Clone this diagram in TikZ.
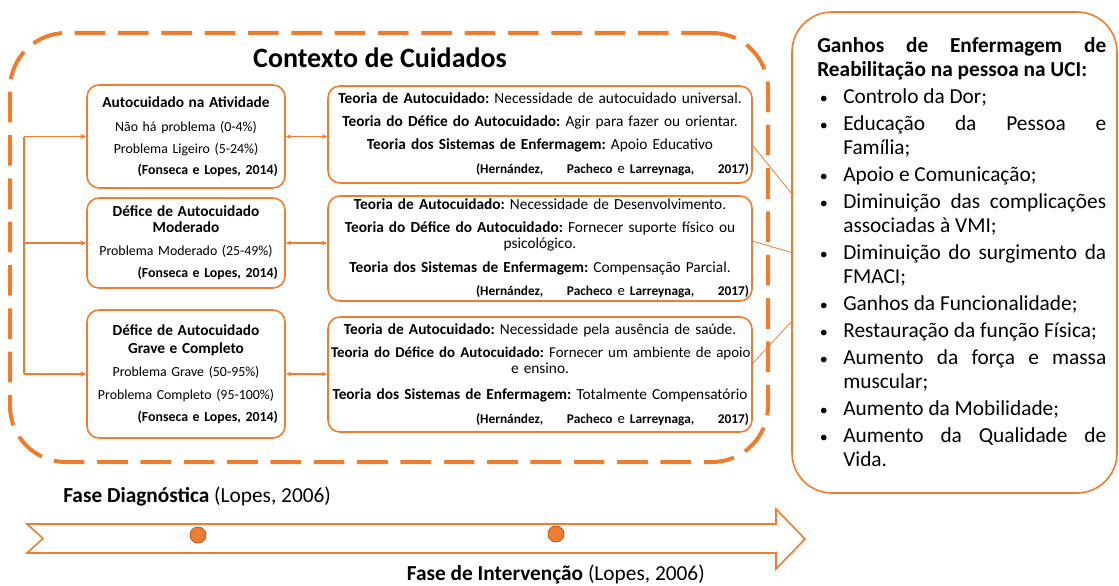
\documentclass[tikz,border=0pt]{standalone}
\usepackage{fontspec}
\setmainfont{Carlito}
\usepackage{tikz}
\usetikzlibrary{arrows.meta}

\definecolor{laranja}{HTML}{ED7D31}
\definecolor{laranjaesc}{HTML}{B85C1E}

\frenchspacing
\newcommand{\titcaixa}[1]{{\fontsize{11.5}{16.5}\selectfont\bfseries #1}}
\newcommand{\fonseca}{\hspace*{\fill}\textbf{(Fonseca e Lopes, 2014)}}
\newcommand{\hernandez}{\hspace*{\fill}\makebox[204.75pt]{\fontsize{10}{10}\selectfont\bfseries (Hernández,\hfill Pacheco {\mdseries\fontsize{11}{10}\selectfont e} Larreynaga,\hfill 2017)}}
\newcommand{\ponto}[1]{\par\hangindent=19.5pt\hangafter=1\noindent\makebox[19.5pt][l]{\hspace{2pt}{\fontsize{12}{12}\selectfont\textbullet}}#1\par}

\begin{document}
\begin{tikzpicture}[x=0.75pt,y=-0.75pt,
    caixa/.style={draw=laranja,line width=1.2pt,rounded corners=9pt,inner ysep=0pt},
    esq/.style={caixa,text width=138pt,inner xsep=5.25pt,align=center,font=\fontsize{10.4}{16.5}\selectfont},
    meio/.style={caixa,text width=313.5pt,inner xsep=2.25pt,align=center,font=\fontsize{11.5}{17.25}\selectfont},
    fio/.style={laranja,line width=0.8pt},
    ponta/.style={-{Stealth[length=4.5pt,width=4pt]}},
    dupla/.style={{Stealth[length=4pt,width=3.5pt]}-{Stealth[length=4pt,width=3.5pt]}},
    marco/.style={circle,fill=laranja,draw=laranjaesc,line width=0.6pt,minimum size=12pt,inner sep=0pt}]

    \useasboundingbox (0,0) rectangle (1119,585);

    \node[draw=laranja,line width=3pt,dash pattern=on 23pt off 9.5pt,rounded corners=42pt,minimum width=568.5pt,minimum height=321.75pt] (contexto) at (389,247.5) {};
    \node[font=\fontsize{21}{25}\selectfont\bfseries] (titulo) at (380,58) {Contexto de Cuidados};

    \node[esq,minimum height=77.25pt] (L1) at (186,136.5) {\titcaixa{Autocuidado na Atividade}\\[1.5pt]
        Não há problema (0-4\%)\\
        Problema Ligeiro (5-24\%)\\[-0.75pt]
        \fonseca};
    \node[esq,minimum height=67.5pt] (L2) at (186,243) {\titcaixa{Défice de Autocuidado\\[-4.5pt]Moderado}\\[0.75pt]
        Problema Moderado (25-49\%)\\
        \fonseca};
    \node[esq,minimum height=96pt] (L3) at (186,374) {\titcaixa{Défice de Autocuidado\\[-3pt]Grave e Completo}\\[0.75pt]
        Problema Grave (50-95\%)\\[0.75pt]
        Problema Completo (95-100\%)\\
        \fonseca};

    \node[meio,minimum height=72.75pt] (M1) at (540,134.5) {\textbf{Teoria de Autocuidado:} Necessidade de autocuidado universal.\\
        \textbf{Teoria do Défice do Autocuidado:} Agir para fazer ou orientar.\\
        \textbf{Teoria dos Sistemas de Enfermagem:} Apoio Educativo\\[0.75pt]
        \hernandez};
    \node[meio,minimum height=78.75pt] (M2) at (540,248.5) {\textbf{Teoria de Autocuidado:} Necessidade de Desenvolvimento.\\
        \textbf{Teoria do Défice do Autocuidado:} Fornecer suporte físico ou\\[-5.25pt]
        psicológico.\\[0.75pt]
        \textbf{Teoria dos Sistemas de Enfermagem:} Compensação Parcial.\\
        \hernandez};
    \node[meio,minimum height=86.25pt] (M3) at (540,374.5) {\textbf{Teoria de Autocuidado:} Necessidade pela ausência de saúde.\\
        \mbox{\fontsize{11.2}{17.25}\selectfont\textbf{Teoria do Défice do Autocuidado:} Fornecer um ambiente de apoio}\\[-5.25pt]
        e ensino.\\[2.25pt]
        \textbf{Teoria dos Sistemas de Enfermagem:} Totalmente Compensatório\\[0.75pt]
        \hernandez};

    \node[caixa,rounded corners=30pt,minimum width=243.75pt,minimum height=360.75pt] (ganhos) at (954.5,252.5) {};
    \node[anchor=north west,text width=216.75pt,inner sep=0pt,align=justify,font=\fontsize{16}{18}\selectfont] (lista) at (817,37) {\parskip=2.25pt\hyphenpenalty=10000\tolerance=9999
        \noindent\textbf{Ganhos de Enfermagem de\linebreak Reabilitação na pessoa na UCI:}
        \ponto{Controlo da Dor;}
        \ponto{Educação da Pessoa e\linebreak Família;}
        \ponto{Apoio e Comunicação;}
        \ponto{Diminuição das complicações\linebreak associadas à VMI;}
        \ponto{Diminuição do surgimento da\linebreak FMACI;}
        \ponto{\mbox{Ganhos da Funcionalidade;}}
        \ponto{\mbox{Restauração da função Física;}}
        \ponto{Aumento da força e massa\linebreak muscular;}
        \ponto{Aumento da Mobilidade;}
        \ponto{Aumento da Qualidade de\linebreak Vida.}};

    \coordinate (tronco1) at (24,136.5);
    \coordinate (tronco3) at (24,374);
    \draw[fio] (tronco1) -- (tronco3);
    \draw[fio,ponta] (tronco1) -- (L1.west);
    \draw[fio,ponta] (L2.west -| tronco1) -- (L2.west);
    \draw[fio,ponta] (tronco3) -- (L3.west);

    \draw[fio,dupla] (L1.east) -- (L1.east -| M1.west);
    \draw[fio,dupla] (L2.east) -- (L2.east -| M2.west);
    \draw[fio,dupla] (L3.east) -- (L3.east -| M3.west);

    \draw[fio,line width=0.6pt] (M1.-3) -- (ganhos.160);
    \draw[fio,line width=0.6pt] (M2.2) -- (ganhos.180);
    \draw[fio,line width=0.6pt] (M3.3) -- (ganhos.203);

    \draw[laranja,line width=1.2pt,fill=white] (27,524) -- (776,524) -- (776,509) -- (805,539) -- (776,569) -- (776,553) -- (27,553) -- (43,538.5) -- cycle;
    \node[marco] (marco1) at (198,535) {};
    \node[marco] (marco2) at (556,534) {};

    \node[anchor=base west,inner sep=0pt,font=\fontsize{16}{18}\selectfont] (diagnostico) at (63,502) {\textbf{Fase Diagnóstica} (Lopes, 2006)};
    \node[anchor=base east,inner sep=0pt,font=\fontsize{16}{18}\selectfont] (intervencao) at (705,580) {\textbf{Fase de Intervenção} (Lopes, 2006)};
\end{tikzpicture}
\end{document}
